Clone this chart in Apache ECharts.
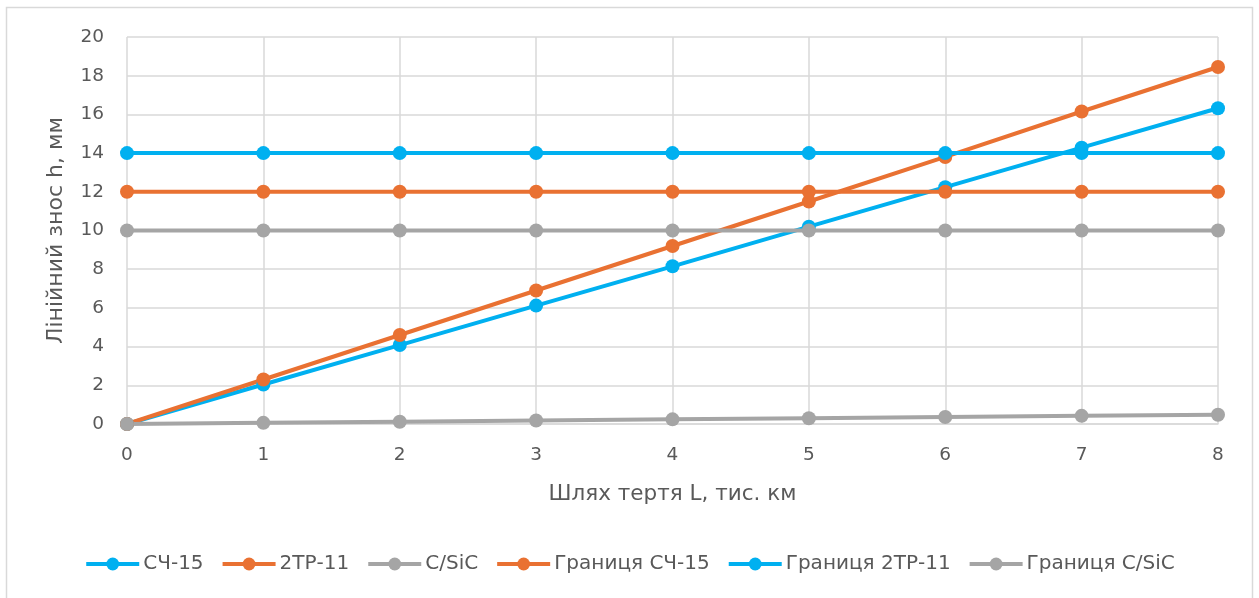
<!DOCTYPE html>
<html>
<head>
<meta charset="utf-8">
<script src="https://cdn.jsdelivr.net/npm/echarts@6/dist/echarts.min.js"></script>
<style>
  html, body { margin: 0; padding: 0; background: #fff; }
  #chart { width: 1259px; height: 598px; }
</style>
</head>
<body>
<div id="chart"></div>
<script>
// Friction path, thousand km
const pathL = [0, 1, 2, 3, 4, 5, 6, 7, 8];

// Linear wear, mm
const wearSCh15 = [0, 2.04, 4.08, 6.12, 8.15, 10.2, 12.24, 14.28, 16.32];
const wear2TR11 = [0, 2.3, 4.6, 6.9, 9.2, 11.5, 13.8, 16.15, 18.45];
const wearCSiC  = [0, 0.06, 0.12, 0.18, 0.24, 0.3, 0.36, 0.42, 0.48];

// Wear limits, mm
const limitSCh15 = [12, 12, 12, 12, 12, 12, 12, 12, 12];
const limit2TR11 = [14, 14, 14, 14, 14, 14, 14, 14, 14];
const limitCSiC  = [10, 10, 10, 10, 10, 10, 10, 10, 10];

const seriesNames = ['СЧ-15', '2ТР-11', 'C/SiC', 'Границя СЧ-15', 'Границя 2ТР-11', 'Границя C/SiC'];
const seriesValues = [wearSCh15, wear2TR11, wearCSiC, limitSCh15, limit2TR11, limitCSiC];

const BLUE = '#00b0f0', ORANGE = '#e97132', GRAY = '#a5a5a5';
const seriesColors = [BLUE, ORANGE, GRAY, ORANGE, BLUE, GRAY];

const FONT = 'DejaVu Sans, Verdana, sans-serif';
const TEXT = '#595959';
const GRID_LINE = '#d9d9d9';

const chart = echarts.init(document.getElementById('chart'), null, { renderer: 'canvas' });

chart.setOption({
  backgroundColor: '#ffffff',
  animation: false,
  graphic: [{
    type: 'rect',
    shape: { x: 6.5, y: 7.5, width: 1246, height: 620 },
    style: { fill: 'none', stroke: GRID_LINE, lineWidth: 1.5 },
    z: -10
  }],
  grid: { left: 127, right: 41, top: 37, bottom: 174 },
  legend: {
    left: 'center',
    top: 549,
    itemWidth: 53,
    itemHeight: 16,
    itemGap: 17,
    lineStyle: { width: 4 },
    textStyle: { fontFamily: FONT, fontSize: 20, color: TEXT, padding: [0, 0, 0, -1] },
    data: seriesNames
  },
  xAxis: {
    type: 'value',
    min: 0, max: 8, interval: 1,
    name: 'Шлях тертя L, тис. км',
    nameLocation: 'middle',
    nameGap: 59,
    nameTextStyle: { fontFamily: FONT, fontSize: 21.5, color: TEXT },
    axisLine: { show: true, lineStyle: { color: GRID_LINE, width: 1.5 } },
    axisTick: { show: false },
    axisLabel: { fontFamily: FONT, fontSize: 18.5, color: TEXT, margin: 22 },
    splitLine: { show: true, lineStyle: { color: GRID_LINE, width: 1.5 } }
  },
  yAxis: {
    type: 'value',
    min: 0, max: 20, interval: 2,
    name: 'Лінійний знос h, мм',
    nameLocation: 'middle',
    nameGap: 60,
    nameTextStyle: { fontFamily: FONT, fontSize: 22, color: TEXT },
    axisLine: { show: false },
    axisTick: { show: false },
    axisLabel: { fontFamily: FONT, fontSize: 18.5, color: TEXT, margin: 23 },
    splitLine: { show: true, lineStyle: { color: GRID_LINE, width: 1.5 } }
  },
  series: seriesNames.map((name, i) => ({
    name: name,
    type: 'line',
    data: pathL.map((x, j) => [x, seriesValues[i][j]]),
    symbol: 'circle',
    symbolSize: 14,
    clip: false,
    color: seriesColors[i],
    lineStyle: { width: 4, color: seriesColors[i] },
    itemStyle: { color: seriesColors[i] }
  }))
});
</script>
</body>
</html>
